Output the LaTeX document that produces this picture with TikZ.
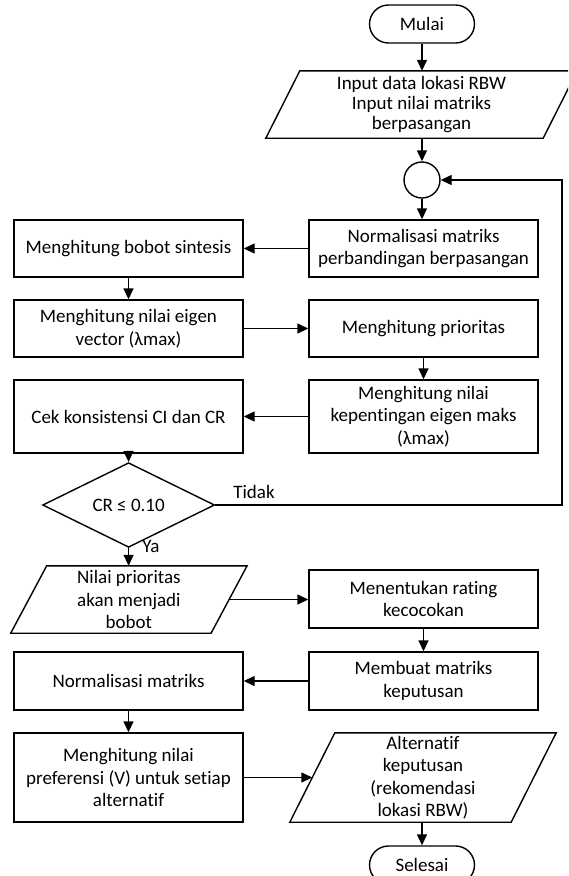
\documentclass[tikz,border=0pt]{standalone}
\usepackage{fontspec}
\setmainfont{Carlito}[Ligatures=NoCommon]
\usetikzlibrary{arrows.meta,calc,shapes.geometric}
\begin{document}
\begin{tikzpicture}[x=1pt,y=-1pt,
  every node/.style={font=\fontsize{19}{22.5}\selectfont, align=center, inner sep=2pt},
  ln/.style={line width=1.4pt, draw=black},
  arr/.style={ln, -{Triangle[length=11pt,width=10pt]}},
  procbox/.style={ln, rectangle, minimum width=229pt},
  term/.style={ln, rectangle, rounded corners=19pt, minimum width=105pt, minimum height=38pt},
  parabody/.style={rectangle, draw=none},
  lbl/.style={font=\fontsize{19}{22.5}\selectfont, inner sep=0pt}
]
\useasboundingbox (0,0) rectangle (568,876);
\clip (0,0) rectangle (568,876);

% nodes
\node[term] (mulai) at (422,24) {Mulai};
\node[parabody, minimum width=277pt, minimum height=67pt, font=\fontsize{19}{20}\selectfont] (input) at (421.5,104.5) {Input data lokasi RBW\\Input nilai matriks\\berpasangan};
\node[ln, circle, minimum size=36pt, inner sep=0pt] (circ) at (422,180) {};

\node[procbox, minimum height=57pt] (r1) at (423.5,248.5) {Normalisasi matriks\\perbandingan berpasangan};
\node[procbox, minimum height=57pt] (l1) at (128.5,248.5) {Menghitung bobot sintesis};
\node[procbox, minimum height=57pt] (l2) at (128.5,328.5) {Menghitung nilai eigen\\vector (λmax)};
\node[procbox, minimum height=57pt] (r2) at (423.5,328.5) {Menghitung prioritas};
\node[procbox, minimum height=73pt] (r3) at (423.5,416.5) {Menghitung nilai\\kepentingan eigen maks\\(λmax)};
\node[procbox, minimum height=73pt] (l3) at (128.5,416.5) {Cek konsistensi CI dan CR};

\node[ln, diamond, minimum width=172pt, minimum height=56pt, inner sep=0pt] (dia) at (128.6,505) {CR ≤ 0.10};
\node[lbl] (tidak) at (254,492) {Tidak};
\node[lbl] (ya) at (151,546) {Ya};

\node[parabody, minimum width=200pt, minimum height=67pt] (nilai) at (128.9,599.5) {Nilai prioritas\\akan menjadi\\bobot};
\node[procbox, minimum height=58pt] (r4) at (423.5,599) {Menentukan rating\\kecocokan};
\node[procbox, minimum height=58pt] (r5) at (423.5,681) {Membuat matriks\\keputusan};
\node[procbox, minimum height=58pt] (l5) at (128.5,681) {Normalisasi matriks};
\node[procbox, minimum height=89pt] (l6) at (128.5,777.5) {Menghitung nilai\\preferensi (V) untuk setiap\\alternatif};
\node[parabody, minimum width=221pt, minimum height=89pt] (alt) at (423,777.5) {Alternatif\\keputusan\\(rekomendasi\\lokasi RBW)};
\node[term] (selesai) at (422,865) {Selesai};

\coordinate (loopx) at (562,0);

% parallelogram outlines
\newcommand\drawpara[2]{%
  \draw[ln] ($(#1.south west)+(-#2,0)$) -- ($(#1.north west)+(#2,0)$) -- ($(#1.north east)+(#2,0)$) -- ($(#1.south east)+(-#2,0)$) -- cycle;}
\drawpara{input}{17}
\drawpara{nilai}{18}
\drawpara{alt}{22.5}

% connectors
\draw[arr] (mulai.south) -- (mulai.south |- input.north);
\draw[arr] (mulai.south |- input.south) -- (circ.north);
\draw[arr] (circ.south) -- (circ.south |- r1.north);
\draw[arr] (r1.west) -- (l1.east);
\draw[arr] (l1.south) -- (l2.north);
\draw[arr] (l2.east) -- (r2.west);
\draw[arr] (r2.south) -- (r3.north);
\draw[arr] (r3.west) -- (l3.east);
\draw[arr] (l3.south) -- (dia.north);
\draw[arr] (dia.east) -- (dia.east -| loopx) |- (circ.east);
\draw[arr] (dia.south) -- (dia.south |- nilai.north);
\draw[arr] (nilai.east) -- (nilai.east -| r4.west);
\draw[arr] (r4.south) -- (r5.north);
\draw[arr] (r5.west) -- (l5.east);
\draw[arr] (l5.south) -- (l6.north);
\draw[arr] (l6.east) -- (l6.east -| alt.west);
\draw[arr] (alt.south -| selesai.north) -- (selesai.north);
\end{tikzpicture}
\end{document}
